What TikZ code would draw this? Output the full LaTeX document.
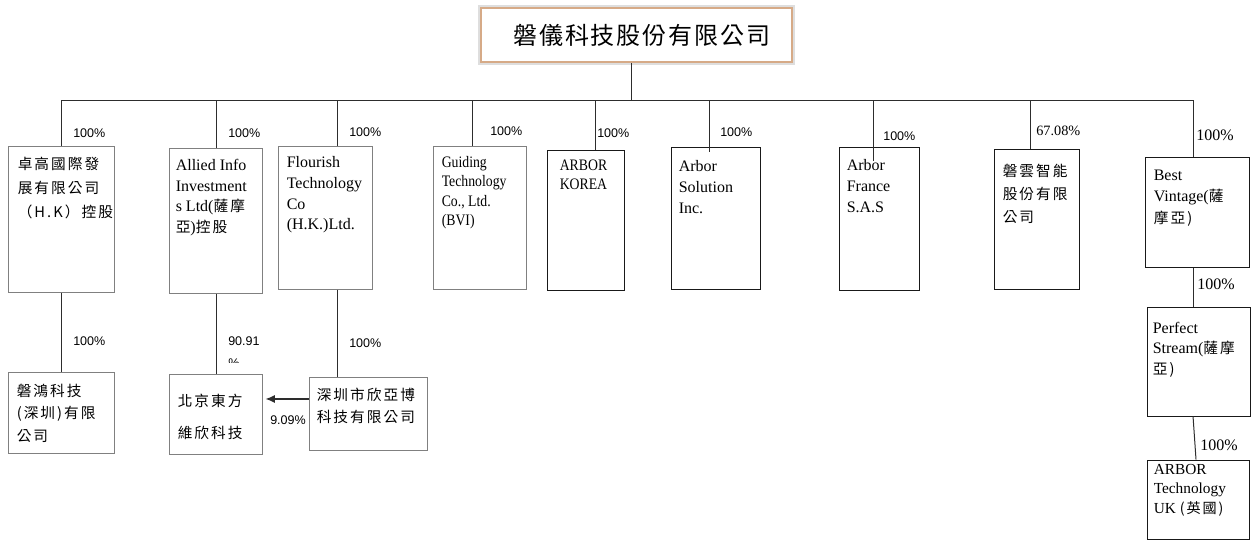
\documentclass[tikz,border=0pt]{standalone}
\usepackage{fontspec}
\setmainfont{Liberation Serif}
\newfontfamily\narrow[FakeStretch=0.86]{Liberation Serif}
\newfontfamily\zh[LetterSpace=14]{Noto Sans CJK TC}
\newfontfamily\zhin[Scale=0.92,LetterSpace=14]{Noto Sans CJK TC}
\newfontfamily\zhtitle[LetterSpace=8]{Noto Sans CJK TC}
\newfontfamily\pctfont{Liberation Sans}
\usetikzlibrary{arrows.meta}
\definecolor{boxgray}{RGB}{128,128,128}
\definecolor{boxdark}{RGB}{25,25,25}
\definecolor{linegray}{RGB}{45,45,45}
\definecolor{titleedge}{RGB}{214,170,135}

\begin{document}
\begin{tikzpicture}[x=0.75pt,y=-0.75pt]
	\tikzset{firm/.style={draw=boxgray,line width=0.75pt,inner sep=0pt},
		firmdk/.style={draw=boxdark,line width=0.75pt,inner sep=0pt},
		txt/.style={anchor=north west,inner sep=0pt,align=left,font=\fontsize{12pt}{15.5pt}\selectfont},
		txtsm/.style={txt,font=\narrow\fontsize{12pt}{14.3pt}\selectfont},
		zhtxt/.style={txt,font=\zh\fontsize{11pt}{18pt}\selectfont},
		pct/.style={anchor=west,inner sep=0pt,font=\pctfont\fontsize{9.4pt}{11pt}\selectfont},
		pctrm/.style={pct,font=\fontsize{12pt}{14pt}\selectfont},
		link/.style={draw=linegray,line width=0.75pt},
		com/.style={-{Latex[length=7pt,width=6pt]}}}
	\useasboundingbox (0,0) rectangle (1251,540);

	\node[draw=titleedge,line width=1.5pt,fill=white,inner sep=0pt,minimum width=233.25pt,minimum height=40.5pt,preaction={draw=black!13,line width=4.5pt},font=\zhtitle\fontsize{18pt}{20pt}\selectfont] (top) at (636.5,35) {\hspace*{8pt}磐儀科技股份有限公司};

	% first row
	\node[firm,minimum width=79.5pt,minimum height=109.5pt] (hk) at (61,219) {};
	\node[firm,minimum width=69.75pt,minimum height=108.75pt] (al) at (215.5,220.5) {};
	\node[firm,minimum width=70.5pt,minimum height=107.25pt] (fl) at (325,217.5) {};
	\node[firm,minimum width=69.75pt,minimum height=107.25pt] (gd) at (479.5,217.5) {};
	\node[firmdk,minimum width=57.75pt,minimum height=105pt] (kr) at (585.5,220) {};
	\node[firmdk,minimum width=66.75pt,minimum height=106.5pt] (so) at (715.5,218) {};
	\node[firmdk,minimum width=60pt,minimum height=107.25pt] (fr) at (879,218.5) {};
	\node[firmdk,minimum width=63.75pt,minimum height=105pt] (cl) at (1036.5,219) {};
	\node[firmdk,minimum width=78pt,minimum height=82.5pt] (bv) at (1197,212) {};

	% second row
	\node[firm,minimum width=79.5pt,minimum height=60.75pt] (sh) at (61,412.5) {};
	\node[firm,minimum width=69.75pt,minimum height=60pt] (bj) at (215.5,414) {};
	\node[firm,minimum width=88.5pt,minimum height=54.75pt] (xy) at (368,413.5) {};
	\node[firmdk,minimum width=77.25pt,minimum height=81.75pt] (ps) at (1198.5,361.5) {};
	\node[firmdk,minimum width=76.5pt,minimum height=59.25pt] (uk) at (1198,499.5) {};

	% texts
	\node[zhtxt] (hkT) at ([shift={(10,11)}]hk.north west) {卓高國際發\\展有限公司\\（H.K）控股};
	\node[txt] (alT) at ([shift={(7,11.5)}]al.north west) {Allied Info\\Investment\\s Ltd({\zhin 薩摩}\\{\zhin 亞}){\zhin 控股}};
	\node[txt] (flT) at ([shift={(9,11)}]fl.north west) {Flourish\\Technology\\Co\\(H.K.)Ltd.};
	\node[txtsm] (gdT) at ([shift={(9,11)}]gd.north west) {Guiding\\Technology\\Co., Ltd.\\(BVI)};
	\node[txtsm] (krT) at ([shift={(13,10)}]kr.north west) {ARBOR\\KOREA};
	\node[txt] (soT) at ([shift={(8,14)}]so.north west) {Arbor\\Solution\\Inc.};
	\node[txt] (frT) at ([shift={(8,13)}]fr.north west) {Arbor\\France\\S.A.S};
	\node[zhtxt,font=\zh\fontsize{11pt}{17.25pt}\selectfont] (clT) at ([shift={(9,15)}]cl.north west) {磐雲智能\\股份有限\\公司};
	\node[txt,font=\fontsize{12pt}{16.3pt}\selectfont] (bvT) at ([shift={(9,13)}]bv.north west) {Best\\Vintage({\zhin 薩}\\{\zhin 摩亞)}};
	\node[txt] (psT) at ([shift={(6,15)}]ps.north west) {Perfect\\Stream({\zhin 薩摩}\\{\zhin 亞)}};
	\node[txt,font=\fontsize{11.5pt}{14.3pt}\selectfont] (ukT) at ([shift={(7,5)}]uk.north west) {ARBOR\\Technology\\UK {\zhin (英國)}};
	\node[zhtxt,font=\zh\fontsize{11pt}{17pt}\selectfont] (shT) at ([shift={(9,12)}]sh.north west) {磐鴻科技\\(深圳)有限\\公司};
	\node[zhtxt,font=\zh\fontsize{11pt}{24pt}\selectfont] (bjT) at ([shift={(9,20)}]bj.north west) {北京東方\\維欣科技};
	\node[zhtxt,font=\zh\fontsize{11pt}{16.5pt}\selectfont] (xyT) at ([shift={(8,11)}]xy.north west) {深圳市欣亞博\\科技有限公司};

	% bus
	\coordinate (t0) at (631,100);
	\coordinate (b1) at (61,100);
	\coordinate (b2) at (216,100);
	\coordinate (b3) at (337,100);
	\coordinate (b4) at (472,100);
	\coordinate (b5) at (595,100);
	\coordinate (b6) at (709,100);
	\coordinate (b7) at (873,100);
	\coordinate (b8) at (1030,100);
	\coordinate (b9) at (1193,100);

	\draw[link] (t0 |- top.south) -- (t0);
	\draw[link] (b1) -- (b9);
	\draw[link] (b1) -- (b1 |- hk.north);
	\draw[link] (b2) -- (b2 |- al.north);
	\draw[link] (b3) -- (b3 |- fl.north);
	\draw[link] (b4) -- (b4 |- gd.north);
	\draw[link] (b5) -- (b5 |- kr.north);
	\draw[link] (b6) -- ([yshift=-3.75pt]b6 |- so.north);
	\draw[link] (b7) -- ([yshift=-11pt]b7 |- fr.north);
	\draw[link] (b8) -- (b8 |- cl.north);
	\draw[link] (b9) -- (b9 |- bv.north);

	\draw[link] (hk.south) -- (sh.north);
	\draw[link] (b2 |- al.south) -- (b2 |- bj.north);
	\draw[link] (b3 |- fl.south) -- (b3 |- xy.north);
	\draw[link] (b9 |- bv.south) -- (b9 |- ps.north);
	\draw[link] ([xshift=-4.1pt]ps.south) -- ([xshift=-1.5pt]uk.north);

	\coordinate (ar) at ([yshift=10.9pt]xy.west);
	\draw[com,link,line width=1pt] (ar) -- ([xshift=2.25pt]ar -| bj.east);

	% shares
	\node[pct] (p1) at (73,133) {100\%};
	\node[pct] (p2) at (228,133) {100\%};
	\node[pct] (p3) at (349,132) {100\%};
	\node[pct] (p4) at (490,131) {100\%};
	\node[pct] (p5) at (597,133) {100\%};
	\node[pct] (p6) at (720,132) {100\%};
	\node[pct] (p7) at (883,136) {100\%};
	\node[pctrm,font=\fontsize{10.7pt}{12pt}\selectfont] (p8) at (1036,131) {67.08\%};
	\node[pctrm] (p9) at (1196,135) {100\%};
	\node[pctrm] (p10) at (1197,284) {100\%};
	\node[pctrm] (p11) at (1200,445) {100\%};
	\node[pct] (p12) at (73,341) {100\%};
	\node[pct] (p13) at (349,343) {100\%};
	\node[pct] (p14) at (270,420) {9.09\%};
	\begin{scope}
		\clip (222,330) rectangle (266,362);
		\node[pct,align=left,anchor=north west,font=\pctfont\fontsize{9.4pt}{16.5pt}\selectfont] (p15) at (228,336.5) {90.91\\\%};
	\end{scope}
\end{tikzpicture}
\end{document}
